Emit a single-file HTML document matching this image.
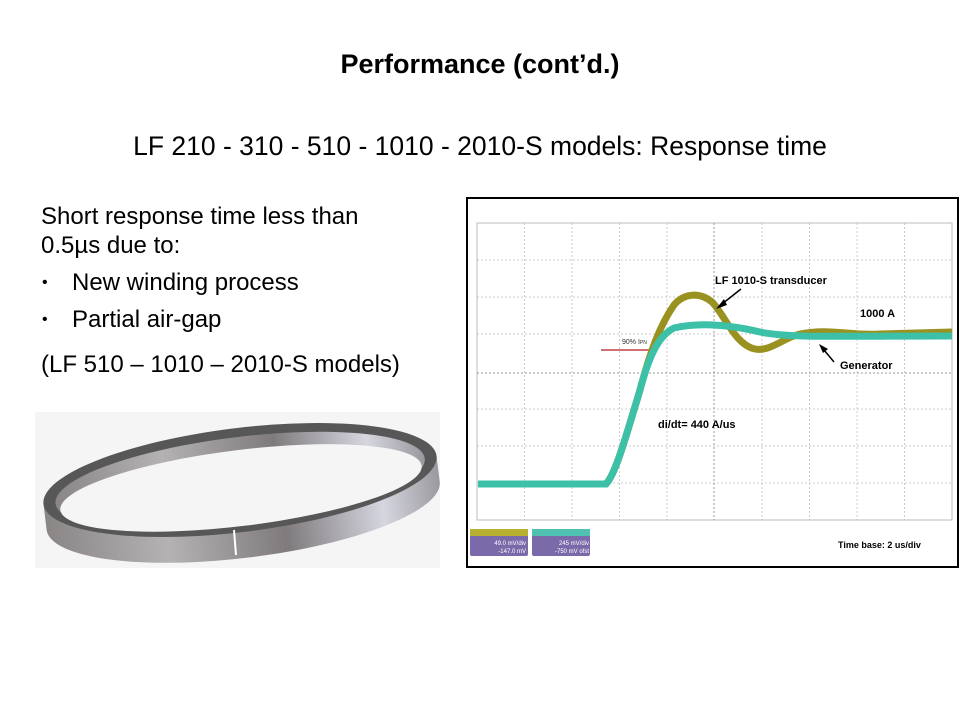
<!DOCTYPE html>
<html><head><meta charset="utf-8"><style>
body{margin:0;width:960px;height:720px;background:#fff;position:relative;overflow:hidden;font-family:"Liberation Sans",sans-serif;color:#000}
.t{position:absolute;white-space:nowrap}
.b{font-size:24px;line-height:29px}
</style></head><body>
<div class="t" style="left:0;width:960px;text-align:center;top:51px;font-size:27px;line-height:27px;font-weight:bold">Performance (cont’d.)</div>
<div class="t" style="left:0;width:960px;text-align:center;top:133px;font-size:26.5px;line-height:27px">LF 210 - 310 - 510 - 1010 - 2010-S models: Response time</div>
<div class="t b" style="left:41px;top:202px">Short response time less than<br>0.5µs due to:</div>
<div class="t b" style="left:42px;top:268px;font-size:16px">•</div><div class="t b" style="left:72px;top:268px">New winding process</div>
<div class="t b" style="left:42px;top:305px;font-size:16px">•</div><div class="t b" style="left:72px;top:305px">Partial air-gap</div>
<div class="t b" style="left:41px;top:350px">(LF 510 – 1010 – 2010-S models)</div>

<svg style="position:absolute;left:35px;top:412px" width="405" height="156">
<rect width="405" height="156" fill="#f5f5f5"/>
<defs><linearGradient id="g" x1="0" x2="1"><stop offset="0" stop-color="#8a8686"/><stop offset=".3" stop-color="#b5b2b4"/><stop offset=".6" stop-color="#7f7b7d"/><stop offset=".85" stop-color="#d6d6e0"/><stop offset="1" stop-color="#9a999e"/></linearGradient></defs>
<g transform="rotate(-7 205 68)">
<ellipse cx="205" cy="94" rx="198" ry="52" fill="url(#g)"/>
<rect x="7" y="68" width="396" height="26" fill="url(#g)"/>
<ellipse cx="205" cy="68" rx="198" ry="52" fill="#575757"/>
<ellipse cx="205" cy="69" rx="186" ry="44" fill="url(#g)"/>
<ellipse cx="205" cy="76" rx="182" ry="38" fill="#f5f5f5"/>
</g>
<line x1="199" y1="118" x2="201" y2="143" stroke="#fff" stroke-width="2"/>
</svg>

<svg style="position:absolute;left:0;top:0" width="960" height="720">
<rect x="467" y="198" width="491" height="369" fill="#fff" stroke="#000" stroke-width="2"/>
<g stroke="#ccc" stroke-width="1" stroke-dasharray="2,2">
<line x1="524.5" y1="223" x2="524.5" y2="520"/><line x1="572" y1="223" x2="572" y2="520"/><line x1="619.5" y1="223" x2="619.5" y2="520"/><line x1="667" y1="223" x2="667" y2="520"/><line x1="762" y1="223" x2="762" y2="520"/><line x1="809.5" y1="223" x2="809.5" y2="520"/><line x1="857" y1="223" x2="857" y2="520"/><line x1="904.5" y1="223" x2="904.5" y2="520"/>
<line x1="477" y1="260" x2="952" y2="260"/><line x1="477" y1="297" x2="952" y2="297"/><line x1="477" y1="334" x2="952" y2="334"/><line x1="477" y1="409" x2="952" y2="409"/><line x1="477" y1="446" x2="952" y2="446"/><line x1="477" y1="483" x2="952" y2="483"/>
</g>
<rect x="477" y="223" width="475" height="297" fill="none" stroke="#bbb"/>
<line x1="714" y1="223" x2="714" y2="520" stroke="#999" stroke-dasharray="2,2"/>
<line x1="477" y1="373" x2="952" y2="373" stroke="#999" stroke-dasharray="2,2"/>
<line x1="601" y1="350" x2="657" y2="350" stroke="#c04040" stroke-width="1.5"/>
<path d="M478,484 L606,484 C615,475 625,440 640,390 C650,352 660,325 674,305 C684,293 700,292 712,302 C725,315 735,345 755,349 C770,352 785,337 800,334 C830,328 850,336 880,334 L952,332" fill="none" stroke="#9a9220" stroke-width="7"/>
<path d="M478,484 L606,484 C615,475 625,440 640,390 C650,352 660,335 674,328 C700,322 730,325 760,332 C790,338 830,336 952,336" fill="none" stroke="#3cc0a8" stroke-width="7"/>
<line x1="741" y1="289" x2="722" y2="304" stroke="#000" stroke-width="1.5"/><polygon points="716,309 724,299 727,305" fill="#000"/>
<line x1="834" y1="362" x2="824" y2="350" stroke="#000" stroke-width="1.5"/><polygon points="819,344 828,349 823,353" fill="#000"/>
<text x="622" y="344" font-size="7" fill="#333" font-family="Liberation Sans">90% I<tspan font-size="5">PN</tspan></text>
<g font-family="Liberation Sans" font-weight="bold" font-size="11">
<text x="715" y="284">LF 1010-S transducer</text>
<text x="860" y="317">1000 A</text>
<text x="840" y="369">Generator</text>
<text x="658" y="428">di/dt= 440 A/us</text>
<text x="838" y="548" font-size="9">Time base: 2 us/div</text>
</g>
<rect x="470" y="529" width="58" height="27" rx="2" fill="#7a6aaa"/><rect x="470" y="529" width="58" height="7" fill="#b8b030"/>
<rect x="532" y="529" width="58" height="27" rx="2" fill="#7a6aaa"/><rect x="532" y="529" width="58" height="7" fill="#50c0b0"/>
<g font-family="Liberation Sans" font-size="6" fill="#fff" text-anchor="end"><text x="526" y="545">49.0 mV/div</text><text x="526" y="553">-147.0 mV</text><text x="589" y="545">245 mV/div</text><text x="589" y="553">-750 mV ofst</text></g>
</svg>
</body></html>
